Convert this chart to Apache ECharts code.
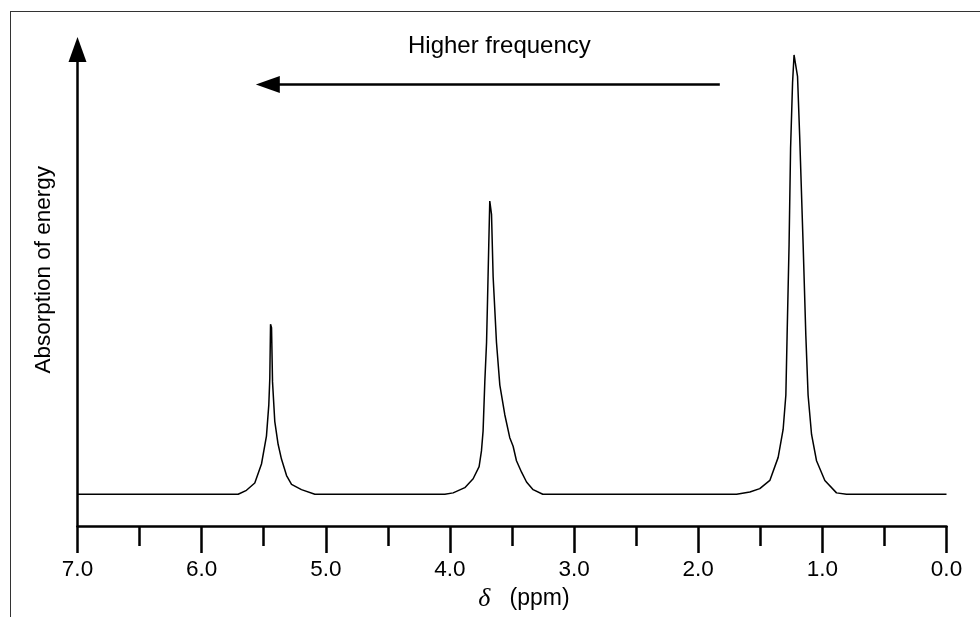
<!DOCTYPE html>
<html>
<head>
<meta charset="utf-8">
<title>NMR spectrum</title>
<script src="https://cdn.jsdelivr.net/npm/echarts@6/dist/echarts.min.js"></script>
<style>
    html, body { margin: 0; padding: 0; background: #fff; overflow: hidden; }
    #frame { position: absolute; left: 10px; top: 11px; right: 0; bottom: 0;
             border-top: 1.5px solid #333; border-left: 1.5px solid #333; }
    #nmrChart { position: absolute; left: 0; top: 0; width: 980px; height: 617px; }
</style>
</head>
<body>
<div id="frame"></div>
<div id="nmrChart"></div>
<script type="text/javascript">
    // chemical shift (ppm) and absorption
    var shift = [7.0, 5.706, 5.639, 5.572, 5.518, 5.478, 5.459, 5.451, 5.445, 5.437, 5.429, 5.411, 5.384, 5.357, 5.316, 5.276, 5.196, 5.088,
        4.041, 3.974, 3.880, 3.813, 3.765, 3.746, 3.733, 3.719, 3.705, 3.697, 3.687, 3.679, 3.673, 3.665, 3.652, 3.625, 3.598, 3.558, 3.518, 3.491, 3.464, 3.423, 3.383, 3.330, 3.252,
        1.691, 1.584, 1.504, 1.423, 1.356, 1.316, 1.294, 1.284, 1.268, 1.256, 1.240, 1.228, 1.216, 1.200, 1.182, 1.155, 1.133, 1.115, 1.087, 1.047, 0.980, 0.886, 0.805, 0.0];
    var absorption = [6.68, 6.68, 7.51, 9.04, 13.03, 18.88, 25.44, 30.96, 42.34, 41.63, 30.26, 21.99, 17.17, 14.06, 10.61, 8.75, 7.65, 6.68,
        6.68, 6.97, 8.07, 9.93, 12.47, 15.78, 19.92, 30.26, 38.53, 47.51, 59.21, 68.19, 68.19, 65.42, 52.33, 38.53, 29.58, 23.37, 18.55, 16.75, 13.71, 11.31, 9.25, 7.65, 6.68,
        6.68, 7.14, 7.86, 9.58, 14.42, 20.27, 27.51, 39.92, 59.21, 79.21, 93.01, 98.86, 98.86, 94.38, 81.28, 59.21, 39.92, 27.51, 19.23, 13.71, 9.58, 6.97, 6.68, 6.68];
    var xTicks = [0, 1, 2, 3, 4, 5, 6, 7];
    // "higher frequency" arrow, in axis units
    var arrowShift = [1.826, 5.467];
    var arrowLevel = 92.66;

    var chart = echarts.init(document.getElementById('nmrChart'));
    var data = [];
    for (var i = 0; i < shift.length; i++) {
        data.push([shift[i], absorption[i]]);
    }
    var font = '"Liberation Sans", Arial, sans-serif';

    var option = {
        animation: false,
        title: {
            text: 'Higher frequency',
            left: 408,
            top: 34,
            padding: 0,
            textStyle: { fontFamily: font, fontSize: 24, fontWeight: 'normal', color: '#000' }
        },
        grid: { left: 77.5, right: 33.5, top: 49.5, bottom: 84 },
        xAxis: {
            type: 'value',
            min: xTicks[0],
            max: xTicks[xTicks.length - 1],
            interval: 1,
            inverse: true,
            name: '{d|δ}   (ppm)',
            nameLocation: 'middle',
            nameGap: 57,
            nameTextStyle: {
                fontFamily: font, fontSize: 23, color: '#000',
                padding: [0, 0, 0, 24],
                rich: { d: { fontFamily: '"Liberation Serif", serif', fontStyle: 'italic', fontSize: 26, color: '#000' } }
            },
            axisLine: { onZero: false, lineStyle: { color: '#000', width: 2.5 } },
            axisTick: { length: 27, lineStyle: { color: '#000', width: 2.5 } },
            minorTick: { show: true, splitNumber: 2, length: 20, lineStyle: { color: '#000', width: 2.5 } },
            axisLabel: {
                margin: 32,
                fontFamily: font, fontSize: 22.5, color: '#000',
                formatter: function (v) { return v.toFixed(1); }
            },
            splitLine: { show: false },
            minorSplitLine: { show: false }
        },
        yAxis: {
            type: 'value',
            min: 0,
            max: 100,
            name: 'Absorption of energy',
            nameLocation: 'middle',
            nameRotate: 90,
            nameGap: 22,
            nameTextStyle: { fontFamily: font, fontSize: 22.5, color: '#000', padding: [0, 0, 0, 36] },
            axisLine: {
                show: true, onZero: false,
                symbol: ['none', 'triangle'],
                symbolSize: [18, 25],
                lineStyle: { color: '#000', width: 2.5 }
            },
            axisTick: { show: false },
            axisLabel: { show: false },
            splitLine: { show: false }
        },
        series: [{
            type: 'line',
            data: data,
            showSymbol: false,
            silent: true,
            clip: false,
            lineStyle: { color: '#000', width: 1.5 },
            markLine: {
                silent: true,
                symbol: ['none', 'triangle'],
                symbolSize: [17, 24],
                label: { show: false },
                lineStyle: { color: '#000', width: 2.5, type: 'solid' },
                data: [[
                    { coord: [arrowShift[0], arrowLevel] },
                    { coord: [arrowShift[1], arrowLevel] }
                ]]
            }
        }]
    };
    chart.setOption(option);
</script>
</body>
</html>
